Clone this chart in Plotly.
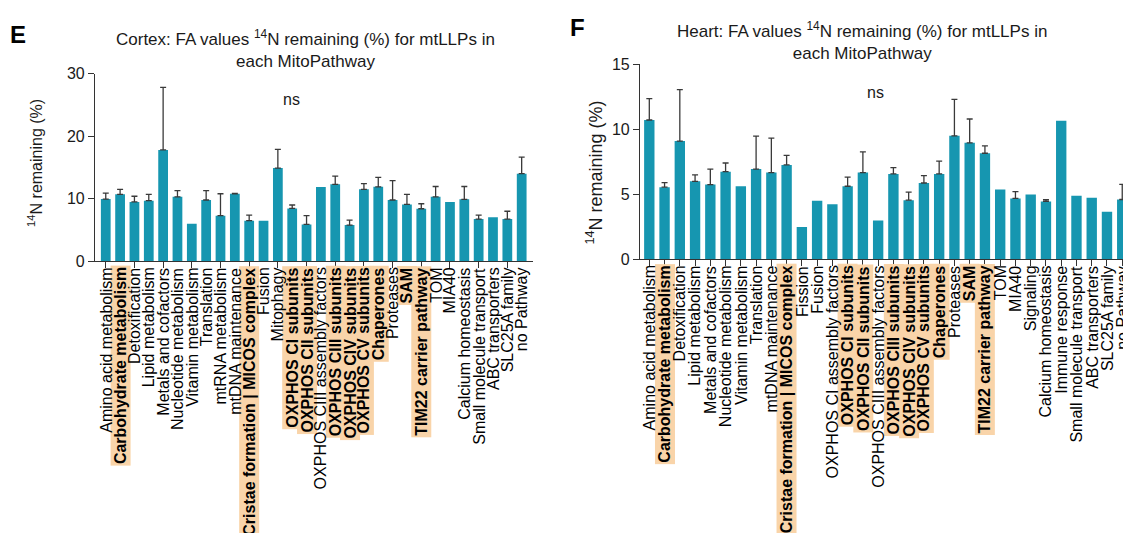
import plotly.graph_objects as go

# ---------------- data ----------------
cortex_pathways = [
    "Amino acid metabolism", "Carbohydrate metabolism", "Detoxification", "Lipid metabolism",
    "Metals and cofactors", "Nucleotide metabolism", "Vitamin metabolism", "Translation",
    "mtRNA metabolism", "mtDNA maintenance", "Cristae formation | MICOS complex", "Fusion",
    "Mitophagy", "OXPHOS CI subunits", "OXPHOS CII subunits", "OXPHOS CIII assembly factors",
    "OXPHOS CIII subunits", "OXPHOS CIV subunits", "OXPHOS CV subunits", "Chaperones",
    "Proteases", "SAM", "TIM22 carrier pathway", "TOM", "MIA40", "Calcium homeostasis",
    "Small molecule transport", "ABC transporters", "SLC25A family", "no Pathway",
]
cortex_mean = [9.95, 10.7, 9.5, 9.7, 17.8, 10.3, 6.0, 9.8, 7.3, 10.8, 6.5, 6.5, 14.9, 8.45, 5.9,
               11.86, 12.3, 5.8, 11.5, 11.9, 9.8, 9.1, 8.4, 10.3, 9.5, 9.9, 6.75, 7.06, 6.75, 14.0]
cortex_sd = [0.95, 0.8, 0.9, 1.0, 10.0, 1.0, None, 1.5, 3.5, 0.05, 0.9, None, 3.0, 0.55, 1.4,
             None, 1.3, 0.8, 0.9, 1.5, 3.1, 1.6, 0.8, 1.66, None, 2.06, 0.65, None, 1.25, 2.65]

heart_pathways = [
    "Amino acid metabolism", "Carbohydrate metabolism", "Detoxification", "Lipid metabolism",
    "Metals and cofactors", "Nucleotide metabolism", "Vitamin metabolism", "Translation",
    "mtDNA maintenance", "Cristae formation | MICOS complex", "Fission", "Fusion",
    "OXPHOS CI assembly factors", "OXPHOS CI subunits", "OXPHOS CII subunits",
    "OXPHOS CIII assembly factors", "OXPHOS CIII subunits", "OXPHOS CIV subunits",
    "OXPHOS CV subunits", "Chaperones", "Proteases", "SAM", "TIM22 carrier pathway", "TOM",
    "MIA40", "Signaling", "Calcium homeostasis", "Immune response", "Small molecule transport",
    "ABC transporters", "SLC25A family", "no Pathway",
]
heart_mean = [10.72, 5.55, 9.1, 6.0, 5.75, 6.74, 5.62, 6.94, 6.67, 7.26, 2.49, 4.5, 4.23, 5.62,
              6.67, 2.99, 6.57, 4.55, 5.87, 6.57, 9.5, 8.96, 8.16, 5.37, 4.68, 4.98, 4.45, 10.67,
              4.88, 4.73, 3.66, 4.6]
heart_sd = [1.64, 0.35, 3.96, 0.5, 1.19, 0.67, None, 2.54, 2.66, 0.73, None, None, None, 0.7,
            1.59, None, 0.49, 0.62, 0.57, 0.99, 2.81, 1.84, 0.57, None, 0.52, None, 0.13, None,
            None, None, None, 1.17]

highlighted = {
    "Carbohydrate metabolism", "Cristae formation | MICOS complex", "OXPHOS CI subunits",
    "OXPHOS CII subunits", "OXPHOS CIII subunits", "OXPHOS CIV subunits", "OXPHOS CV subunits",
    "Chaperones", "SAM", "TIM22 carrier pathway",
}

cortex_yticks = [0, 10, 20, 30]
heart_yticks = [0, 5, 10, 15]

# ---------------- style ----------------
W, H = 1123, 533
FONT = "Liberation Sans, Arial, sans-serif"
BAR = "#1696B0"
HL = "#F9D4A9"
AX = "#333333"
TXT = "#1a1a1a"
LABEL_SIZE = 16


def px_x(p):
    return p / W


def px_y(p):
    return 1 - p / H


fig = go.Figure()

panels = [
    dict(cats=cortex_pathways, mean=cortex_mean, sd=cortex_sd, xa="x", ya="y",
         xdom=[px_x(95), px_x(533.3)], ydom=[px_y(261.7), px_y(67.7)],
         xrange=[-0.75, 29.81], yrange=[0, 30], yticks=cortex_yticks,
         label_top=266, title_x=305, title_y=42, ns_x=291, ns_y=95, yt_x=35, yt_y=160,
         letter="E", letter_x=18, letter_y=27, ytitle_size=16),
    dict(cats=heart_pathways, mean=heart_mean, sd=heart_sd, xa="x2", ya="y2",
         xdom=[px_x(640), 1.0], ydom=[px_y(259.5), px_y(58.3)],
         xrange=[-0.61, 31.05], yrange=[0, 15], yticks=heart_yticks,
         label_top=264, title_x=862, title_y=34, ns_x=875, ns_y=87, yt_x=595, yt_y=170,
         letter="F", letter_x=577, letter_y=20, ytitle_size=18),
]

bg_annotations = []
annotations = []
for k, p in enumerate(panels):
    sfx = "" if k == 0 else "2"
    fig.add_trace(go.Bar(
        x=p["cats"], y=p["mean"], xaxis=p["xa"], yaxis=p["ya"],
        marker=dict(color=BAR, line=dict(width=0)), showlegend=False,
    ))
    ex = [c for c, s in zip(p["cats"], p["sd"]) if s is not None]
    ey = [m for m, s in zip(p["mean"], p["sd"]) if s is not None]
    es = [s for s in p["sd"] if s is not None]
    fig.add_trace(go.Scatter(
        x=ex, y=ey, xaxis=p["xa"], yaxis=p["ya"], mode="markers",
        marker=dict(size=1, color="rgba(0,0,0,0)"), showlegend=False,
        error_y=dict(type="data", array=es, arrayminus=[0] * len(es), symmetric=False,
                     color="#3a3a3a", thickness=1.3, width=3),
    ))
    fig.layout["xaxis" + sfx] = dict(
        domain=p["xdom"], anchor=p["ya"], type="category", range=p["xrange"],
        showline=True, linecolor=AX, linewidth=1.2, ticks="outside", ticklen=6,
        tickwidth=1.2, tickcolor=AX, showticklabels=False, showgrid=False, zeroline=False,
        fixedrange=True,
    )
    fig.layout["yaxis" + sfx] = dict(
        domain=p["ydom"], anchor=p["xa"], range=p["yrange"], tickvals=p["yticks"],
        showline=True, linecolor=AX, linewidth=1.2, ticks="outside", ticklen=6,
        tickwidth=1.2, tickcolor=AX, showgrid=False, zeroline=False,
        tickfont=dict(family=FONT, size=16, color=TXT), fixedrange=True,
    )
    # category labels: highlight boxes first (transparent text), then all texts on top
    for i, c in enumerate(p["cats"]):
        hl = c in highlighted
        base = dict(
            x=i, y=px_y(p["label_top"]), xref=p["xa"], yref="paper",
            text=f"<b>{c}</b>" if hl else c, showarrow=False, textangle=-90,
            xanchor="center", yanchor="top", borderpad=1,
        )
        if hl:
            bg_annotations.append(dict(
                base, font=dict(family=FONT, size=LABEL_SIZE, color="rgba(0,0,0,0)"),
                bgcolor=HL))
        annotations.append(dict(
            base, font=dict(family=FONT, size=LABEL_SIZE, color="#000000"),
            bgcolor="rgba(0,0,0,0)"))
    # title
    tname = "Cortex" if k == 0 else "Heart"
    annotations.append(dict(
        x=px_x(p["title_x"]), y=px_y(p["title_y"]), xref="paper", yref="paper",
        text=f"{tname}: FA values <sup>14</sup>N remaining (%) for mtLLPs in<br>each MitoPathway",
        showarrow=False, xanchor="center", yanchor="middle", align="center",
        font=dict(family=FONT, size=17, color=TXT),
    ))
    annotations.append(dict(
        x=px_x(p["ns_x"]), y=px_y(p["ns_y"]), xref="paper", yref="paper", text="ns",
        showarrow=False, xanchor="center", yanchor="middle",
        font=dict(family=FONT, size=16, color=TXT),
    ))
    annotations.append(dict(
        x=px_x(p["yt_x"]), y=px_y(p["yt_y"]), xref="paper", yref="paper",
        text="<sup>14</sup>N remaining (%)", textangle=-90, showarrow=False,
        xanchor="center", yanchor="middle",
        font=dict(family=FONT, size=p["ytitle_size"], color=TXT),
    ))
    annotations.append(dict(
        x=px_x(p["letter_x"]), y=px_y(p["letter_y"]), xref="paper", yref="paper",
        text=f"<b>{p['letter']}</b>", showarrow=False, xanchor="center", yanchor="middle",
        font=dict(family=FONT, size=24, color="#000000"),
    ))

fig.update_layout(
    width=W, height=H, autosize=False,
    margin=dict(l=0, r=0, t=0, b=0, pad=0),
    paper_bgcolor="white", plot_bgcolor="white",
    bargap=0.32, annotations=bg_annotations + annotations,
    font=dict(family=FONT, color=TXT),
)

fig.write_html("out.html", config={"displayModeBar": False})
